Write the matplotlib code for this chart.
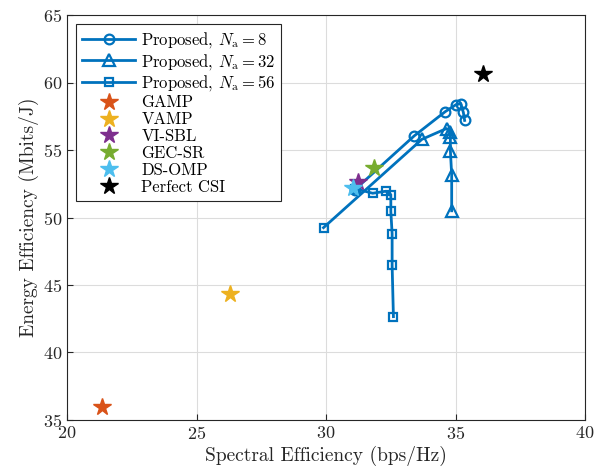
import numpy as np
import matplotlib
matplotlib.use("Agg")
import matplotlib.pyplot as plt

# proposed scheme, three antenna counts
se_na8 = [31.1, 33.4, 34.6, 35.0, 35.2, 35.3, 35.35]
ee_na8 = [52.05, 56.05, 57.85, 58.35, 58.45, 57.8, 57.2]

se_na32 = [29.9, 33.7, 34.65, 34.8, 34.8, 34.8, 34.85, 34.85]
ee_na32 = [49.25, 55.8, 56.6, 56.35, 55.95, 54.95, 53.15, 50.5]

se_na56 = [31.1, 31.8, 32.3, 32.5, 32.5, 32.55, 32.55, 32.6]
ee_na56 = [52.15, 51.8, 51.95, 51.7, 50.45, 48.8, 46.45, 42.65]

# baselines
baseline_names = ["GAMP", "VAMP", "VI-SBL", "GEC-SR", "DS-OMP", "Perfect CSI"]
baseline_se = [21.35, 26.3, 31.25, 31.85, 31.05, 36.05]
baseline_ee = [35.95, 44.3, 52.65, 53.65, 52.2, 60.65]
baseline_colors = ["#D95319", "#EDB120", "#7E2F8E", "#77AC30", "#4DBEEE", "black"]

plt.rcParams["font.family"] = "cmr10"
plt.rcParams["mathtext.fontset"] = "cm"
plt.rcParams["axes.formatter.use_mathtext"] = True

fig = plt.figure(figsize=(6.05, 4.76), dpi=100)
ax = fig.add_axes([0.111, 0.118, 0.856, 0.850])

blue = "#0072BD"
line_kw = dict(color=blue, lw=2, mfc="none", mew=1.6)
ax.plot(se_na8, ee_na8, marker="o", ms=7, label=r"Proposed, $N_\mathrm{a} = 8$", **line_kw)
# first triangle sits under the first square of the N_a = 56 curve
ax.plot(se_na32, ee_na32, marker="^", ms=8, markevery=list(range(1, len(se_na32))),
        label=r"Proposed, $N_\mathrm{a} = 32$", **line_kw)
ax.plot(se_na56, ee_na56, marker="s", ms=6, label=r"Proposed, $N_\mathrm{a} = 56$", **line_kw)
ax.plot(se_na32[0], ee_na32[0], marker="s", ms=6, ls="none", **line_kw)

for name, x, y, c in zip(baseline_names, baseline_se, baseline_ee, baseline_colors):
    ax.plot(x, y, ls="none", marker="*", ms=13, color=c, mec=c, label=name)

ax.set_xlim(20, 40)
ax.set_ylim(35, 65)
ax.set_xticks(np.arange(20, 41, 5))
ax.set_yticks(np.arange(35, 66, 5))
ax.grid(True, color="#DCDCDC", lw=0.8)
ax.set_axisbelow(True)
ax.tick_params(direction="in", labelsize=13, length=4, color="#262626", labelcolor="#262626")
for sp in ax.spines.values():
    sp.set_color("#262626")
    sp.set_linewidth(0.8)

ax.set_xlabel("Spectral Efficiency (bps/Hz)", fontsize=14, color="#262626", labelpad=3)
ax.set_ylabel("Energy Efficiency (Mbits/J)", fontsize=14, color="#262626", labelpad=3)

leg = ax.legend(loc="upper left", fontsize=12, handlelength=3.2, borderpad=0.35,
                labelspacing=0.1, handletextpad=0.35, fancybox=False,
                framealpha=1, edgecolor="#262626", borderaxespad=0.55)
leg.get_frame().set_linewidth(0.8)

fig.savefig("out.png", dpi=100)
